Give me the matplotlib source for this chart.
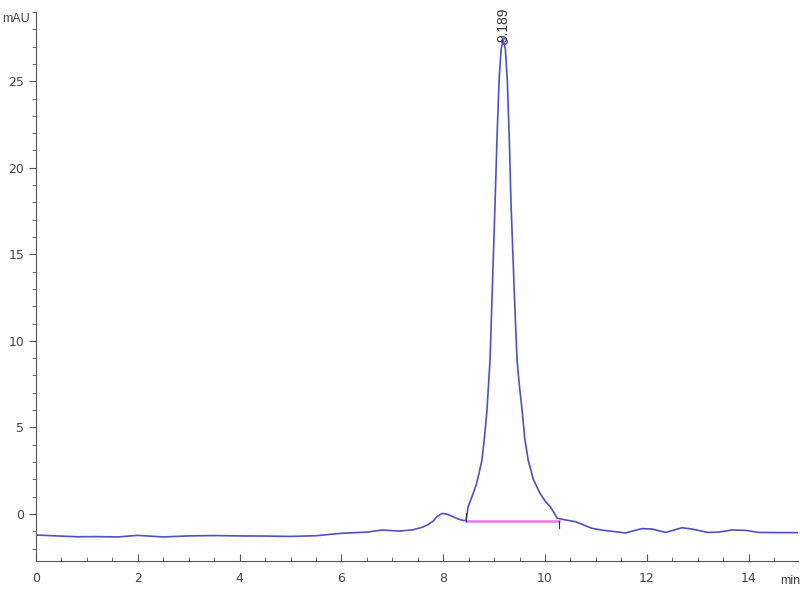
import numpy as np
import matplotlib
matplotlib.use('AGG')
import matplotlib.pyplot as plt
from matplotlib.ticker import MultipleLocator

# chromatogram trace (min, mAU)
time = [0.0, 0.4, 0.8, 1.2, 1.6, 2.0, 2.5, 3.0, 3.5, 4.0, 4.5, 5.0, 5.5, 6.0,
        6.5, 6.8, 7.14, 7.4, 7.59, 7.7, 7.8, 7.88, 7.98, 8.08, 8.18, 8.3,
        8.41, 8.45, 8.49, 8.54, 8.59, 8.65, 8.7, 8.76, 8.81, 8.86, 8.92,
        8.97, 9.02, 9.06, 9.1, 9.14, 9.18, 9.22, 9.26, 9.3, 9.33, 9.4,
        9.45, 9.5, 9.55, 9.6, 9.67, 9.77, 9.9, 10.0, 10.1, 10.17, 10.24,
        10.41, 10.6, 10.92, 11.15, 11.39, 11.58, 11.9, 12.1, 12.37, 12.69,
        12.88, 13.2, 13.41, 13.67, 13.94, 14.2, 14.6, 14.97]
signal = [-1.22, -1.27, -1.32, -1.31, -1.33, -1.24, -1.33, -1.27, -1.25,
          -1.27, -1.28, -1.3, -1.26, -1.12, -1.05, -0.93, -0.99, -0.92,
          -0.77, -0.62, -0.42, -0.15, 0.03, -0.02, -0.14, -0.3, -0.39, -0.36,
          0.43, 0.8, 1.2, 1.7, 2.3, 3.1, 4.4, 6.0, 8.9, 13.5, 18.1, 22.0,
          25.2, 26.9, 27.35, 26.9, 25.0, 21.5, 18.1, 12.5, 8.9, 7.3, 6.0,
          4.4, 3.1, 2.0, 1.2, 0.75, 0.43, 0.1, -0.25, -0.35, -0.45, -0.83,
          -0.95, -1.03, -1.1, -0.85, -0.87, -1.07, -0.8, -0.87, -1.07, -1.05,
          -0.93, -0.95, -1.07, -1.08, -1.08]

peak_rt = 9.189
peak_height = 27.35
base_start, base_end, base_level = 8.45, 10.27, -0.38

fig = plt.figure(figsize=(8, 6), dpi=100)
ax = fig.add_axes([0.045, 0.065, 0.9525, 0.915])
plt.rcParams['font.family'] = ['Liberation Sans', 'DejaVu Sans']

ax.plot(time, signal, color='#5050c0', linewidth=1.2)
ax.plot([base_start, base_end], [base_level, base_level], color='#f070f0', linewidth=1.8)
# small start / end markers of the integration
ax.plot([base_start, base_start], [base_level, base_level + 0.45], color='#333333', linewidth=0.8)
ax.plot([base_end, base_end], [base_level, base_level - 0.45], color='#333333', linewidth=0.8)
ax.plot([peak_rt], [peak_height], marker='o', markerfacecolor='none',
        markeredgecolor='#5050c0', markersize=4)
ax.text(peak_rt, peak_height - 0.1, '9.189', rotation=90, ha='center', va='bottom',
        fontsize=10, color='#333333', family=['Liberation Sans', 'DejaVu Sans'])

ax.set_xlim(0, 14.97)
ax.set_ylim(-2.72, 29.0)

for s in ['top', 'right']:
    ax.spines[s].set_visible(False)
for s in ['left', 'bottom']:
    ax.spines[s].set_color('#555555')

ax.xaxis.set_major_locator(MultipleLocator(2))
ax.xaxis.set_minor_locator(MultipleLocator(0.5))
ax.yaxis.set_major_locator(MultipleLocator(5))
ax.yaxis.set_minor_locator(MultipleLocator(1))
ax.tick_params(axis='x', which='major', direction='in', length=5, color='#555555',
               labelsize=9, labelcolor='#444444', pad=8)
ax.tick_params(axis='x', which='minor', direction='in', length=3, color='#555555')
ax.tick_params(axis='y', which='major', direction='out', length=5, color='#555555',
               labelsize=9, labelcolor='#444444')
ax.tick_params(axis='y', which='minor', direction='out', length=3, color='#555555')

fig.text(0.003, 0.968, 'mAU', fontsize=9, color='#444444', va='center')
fig.text(0.975, 0.032, 'min', fontsize=9, color='#444444', va='center')

plt.savefig('out.png', dpi=100)
